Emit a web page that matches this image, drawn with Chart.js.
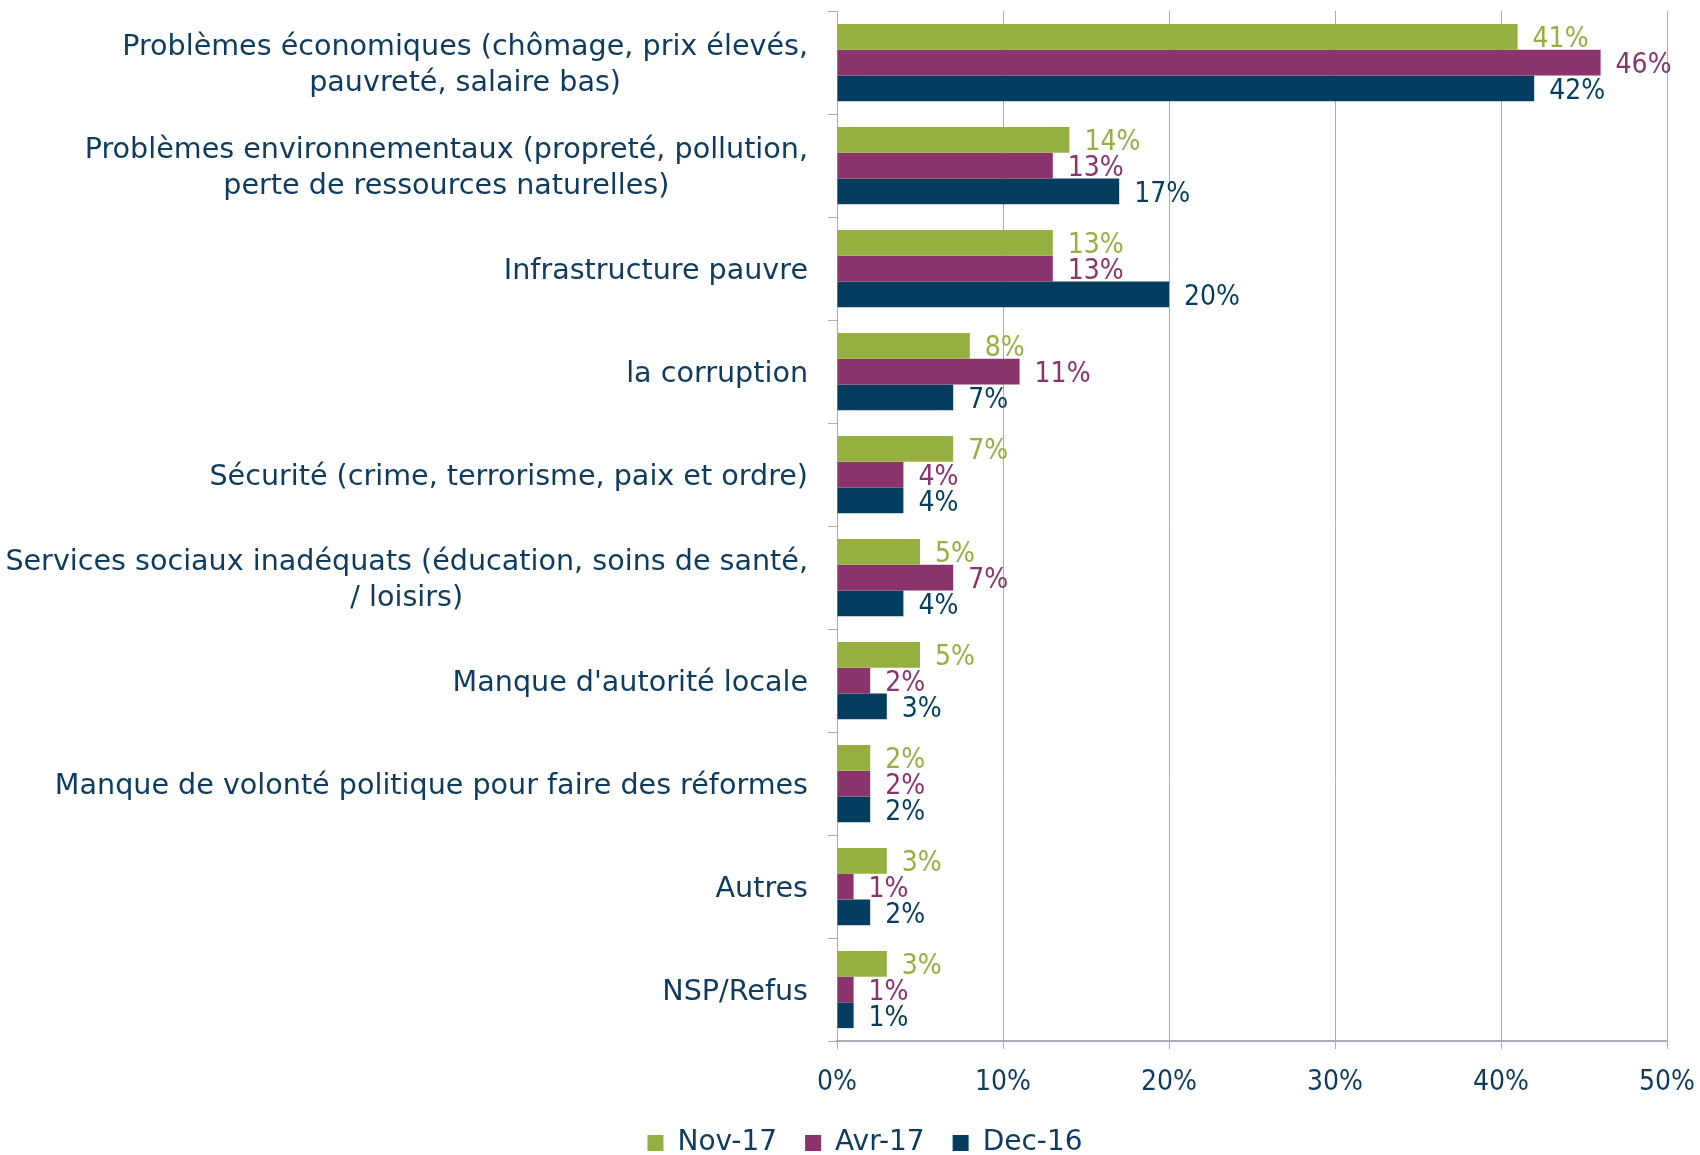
<!DOCTYPE html>
<html>
<head>
<meta charset="utf-8">
<script src="https://cdn.jsdelivr.net/npm/chart.js@4/dist/chart.umd.min.js"></script>
<style>
  html, body { margin: 0; padding: 0; background: #fff; }
  #wrap { width: 1700px; height: 1155px; }
</style>
</head>
<body>
<div id="wrap"><canvas id="chart" width="1700" height="1155"></canvas></div>
<script>
// categories, top to bottom (multi-line labels as arrays)
const categories = [
  ['Problèmes économiques (chômage, prix élevés,', 'pauvreté, salaire bas)'],
  ['Problèmes environnementaux (propreté, pollution,', 'perte de ressources naturelles)'],
  ['Infrastructure pauvre'],
  ['la corruption'],
  ['Sécurité (crime, terrorisme, paix et ordre)'],
  ['Services sociaux inadéquats (éducation, soins de santé,', '/ loisirs)'],
  ["Manque d'autorité locale"],
  ['Manque de volonté politique pour faire des réformes'],
  ['Autres'],
  ['NSP/Refus']
];
const nov17 = [41, 14, 13, 8, 7, 5, 5, 2, 3, 3];
const avr17 = [46, 13, 13, 11, 4, 7, 2, 2, 1, 1];
const dec16 = [42, 17, 20, 7, 4, 4, 3, 2, 2, 1];
const seriesNames = ['Nov-17', 'Avr-17', 'Dec-16'];
const xTicks = [0, 10, 20, 30, 40, 50];

const colors = ['#95AF40', '#8B336B', '#053D5F'];
const textColor = '#0E3B5E';
const gridColor = '#A8ACB6';
const wideFont = "'DejaVu Sans', sans-serif";
const narrowFont = "'DejaVu Sans Condensed', 'DejaVu Sans', sans-serif";
const FONT_SIZE = 28;

// category labels: each block right aligned, lines centered inside the block
const categoryLabels = {
  id: 'categoryLabels',
  afterDraw(chart) {
    const ctx = chart.ctx;
    const yScale = chart.scales.y;
    const rightEdge = chart.chartArea.left - 29;
    const lineH = 36;
    ctx.save();
    ctx.font = '28.6px ' + wideFont;
    ctx.fillStyle = textColor;
    ctx.textAlign = 'center';
    ctx.textBaseline = 'middle';
    categories.forEach((lines, i) => {
      const y = yScale.getPixelForValue(i) + 3;
      let w = 0;
      lines.forEach(l => { w = Math.max(w, ctx.measureText(l).width); });
      const cx = rightEdge - w / 2;
      const y0 = y - (lines.length - 1) * lineH / 2;
      lines.forEach((l, k) => ctx.fillText(l, cx, y0 + k * lineH));
    });
    ctx.restore();
  }
};

// value labels at the end of each bar
const valueLabels = {
  id: 'valueLabels',
  afterDatasetsDraw(chart) {
    const ctx = chart.ctx;
    ctx.save();
    ctx.font = FONT_SIZE + 'px ' + narrowFont;
    ctx.textAlign = 'left';
    ctx.textBaseline = 'middle';
    chart.data.datasets.forEach((ds, di) => {
      const meta = chart.getDatasetMeta(di);
      ctx.fillStyle = ds.backgroundColor;
      meta.data.forEach((bar, i) => {
        ctx.fillText(ds.data[i] + '%', bar.x + 15, bar.y + 3);
      });
    });
    ctx.restore();
  }
};

const ctx = document.getElementById('chart');
new Chart(ctx, {
  type: 'bar',
  data: {
    labels: categories,
    datasets: [
      { label: seriesNames[0], data: nov17, backgroundColor: colors[0] },
      { label: seriesNames[1], data: avr17, backgroundColor: colors[1] },
      { label: seriesNames[2], data: dec16, backgroundColor: colors[2] }
    ]
  },
  options: {
    indexAxis: 'y',
    responsive: false,
    animation: false,
    devicePixelRatio: 1,
    layout: { padding: { top: 11, right: 33, left: 63, bottom: -12 } },
    datasets: { bar: { categoryPercentage: 0.75, barPercentage: 1.0, borderWidth: 0 } },
    scales: {
      x: {
        min: 0,
        max: 50,
        afterBuildTicks: s => { s.ticks = xTicks.map(v => ({ value: v })); },
        afterFit: s => { s.height = 60; s.paddingRight = 0; s.paddingLeft = 0; },
        ticks: {
          callback: v => v + '%',
          color: textColor,
          font: { family: narrowFont, size: FONT_SIZE },
          padding: 17,
          maxRotation: 0
        },
        grid: { color: gridColor, lineWidth: 1, tickLength: 8 },
        border: { color: gridColor, width: 2 }
      },
      y: {
        afterFit: s => { s.width = 774; },
        ticks: { display: false },
        grid: { drawOnChartArea: false, offset: true, tickLength: 9, color: gridColor },
        border: { color: gridColor, width: 1 }
      }
    },
    plugins: {
      legend: {
        position: 'bottom',
        labels: {
          boxWidth: 16,
          boxHeight: 16,
          padding: 28,
          color: textColor,
          font: { family: wideFont, size: FONT_SIZE }
        }
      },
      tooltip: { enabled: false }
    }
  },
  plugins: [categoryLabels, valueLabels]
});
</script>
</body>
</html>
